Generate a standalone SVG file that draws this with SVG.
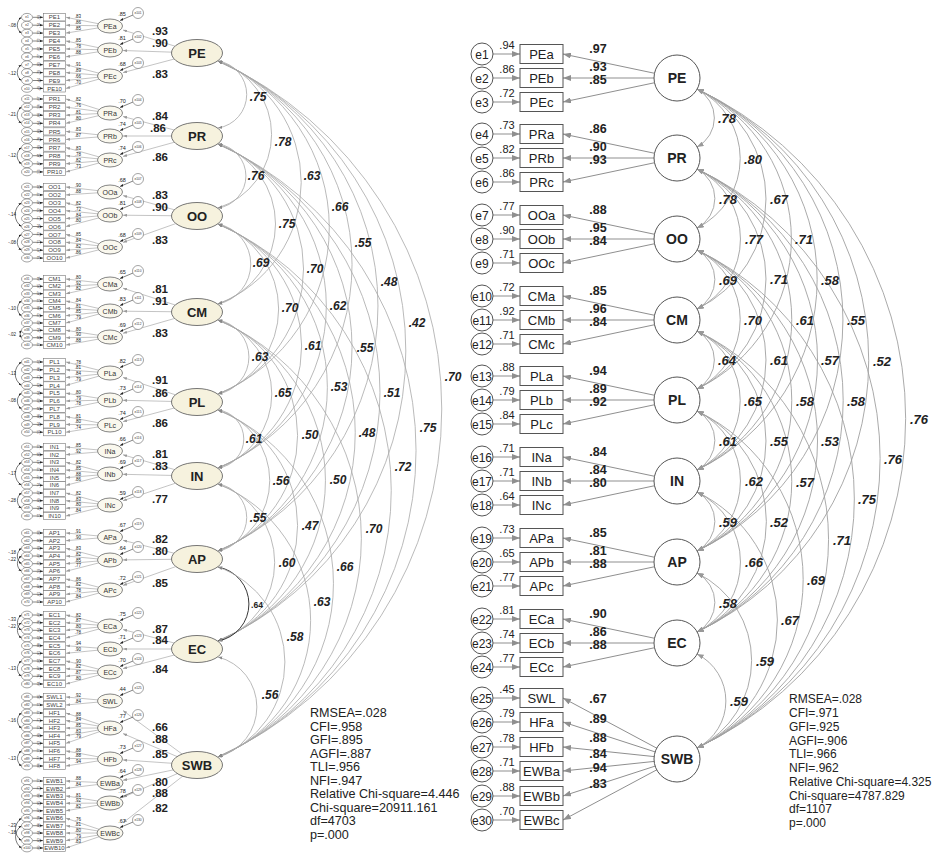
<svg xmlns="http://www.w3.org/2000/svg" width="934" height="854" viewBox="0 0 934 854">
<defs>
<style>
text{font-family:"Liberation Sans",Arial,sans-serif;fill:#222}
.nd{fill:#fff;stroke:#555;stroke-width:1}
.so{fill:#f6f2de;stroke:#666;stroke-width:0.9}
.fo{fill:#faf8ee;stroke:#666;stroke-width:0.8}
.en{fill:#fff;stroke:#666;stroke-width:0.6}
.bx{fill:#fff;stroke:#777;stroke-width:0.6}
.cr{stroke:#8f8f8f;stroke-width:1;fill:none;marker-end:url(#aR)}
.ac{stroke:#a0a0a0;stroke-width:0.9;fill:none;marker-start:url(#aC);marker-end:url(#aC)}
.al{stroke:#a8a8a8;stroke-width:0.8;fill:none;marker-start:url(#aS);marker-end:url(#aS)}
.alk{stroke:#222;stroke-width:0.9;fill:none;marker-start:url(#aS);marker-end:url(#aS)}
.ll{stroke:#aaa;stroke-width:0.7;fill:none;marker-end:url(#aL)}
.ka{stroke:#333;stroke-width:0.6;fill:none;marker-end:url(#aK)}
.kc{stroke:#222;stroke-width:0.6;fill:none;marker-start:url(#aK2);marker-end:url(#aK2)}
.t12{font-size:12px;text-anchor:middle}
.t13{font-size:13px;text-anchor:middle}
.lb{font-size:12.5px;font-weight:bold;text-anchor:middle}
.lbl{font-size:11.5px;font-weight:bold;text-anchor:middle}
.lt{font-size:14px;font-weight:bold;text-anchor:middle}
.lt2{font-size:13px;font-weight:bold;text-anchor:middle}
.ev{font-size:11px;fill:#555;text-anchor:middle}
.ci{font-size:13px;font-weight:bold;font-style:italic;text-anchor:middle}
.cl{font-size:12px;font-weight:bold;font-style:italic;text-anchor:middle}
.st{font-size:12px;fill:#333}
.stl{font-size:12.6px;fill:#333}
.t6{font-size:6px;text-anchor:middle;fill:#444}
.t7{font-size:7px;text-anchor:middle;fill:#333}
.t3{font-size:3.2px;text-anchor:middle;fill:#333}
.t45{font-size:4.5px;text-anchor:middle;fill:#555}
.t55{font-size:5.5px;text-anchor:middle;fill:#555}
.tr{font-size:3.6px;text-anchor:middle;fill:#444}
.tk{font-size:4.5px;text-anchor:end;fill:#444}
</style>
<marker id="aR" viewBox="0 0 8 6" refX="8" refY="3" markerWidth="8" markerHeight="6" markerUnits="userSpaceOnUse" orient="auto"><path d="M0,0L8,3L0,6z" fill="#8f8f8f"/></marker>
<marker id="aC" viewBox="0 0 8 6" refX="8" refY="3" markerWidth="7" markerHeight="5" markerUnits="userSpaceOnUse" orient="auto-start-reverse"><path d="M0,0L8,3L0,6z" fill="#999"/></marker>
<marker id="aS" viewBox="0 0 8 6" refX="8" refY="3" markerWidth="4.5" markerHeight="3.2" markerUnits="userSpaceOnUse" orient="auto-start-reverse"><path d="M0,0L8,3L0,6z" fill="#888"/></marker>
<marker id="aL" viewBox="0 0 8 6" refX="8" refY="3" markerWidth="4" markerHeight="3" markerUnits="userSpaceOnUse" orient="auto"><path d="M0,0L8,3L0,6z" fill="#999"/></marker>
<marker id="aK" viewBox="0 0 8 6" refX="8" refY="3" markerWidth="3.5" markerHeight="2.6" markerUnits="userSpaceOnUse" orient="auto"><path d="M0,0L8,3L0,6z" fill="#222"/></marker>
<marker id="aK2" viewBox="0 0 8 6" refX="8" refY="3" markerWidth="3" markerHeight="2.2" markerUnits="userSpaceOnUse" orient="auto-start-reverse"><path d="M0,0L8,3L0,6z" fill="#222"/></marker>
<g id="ind"><path d="M32.5,0H43" class="ka"/><ellipse cx="27" cy="0" rx="5.5" ry="3.9" class="en"/><rect x="43.5" y="-3.6" width="22" height="7.2" class="bx"/></g>
</defs>
<rect width="934" height="854" fill="#fff"/>

<!-- ================= LEFT PANEL CONNECTORS ================= -->
<g id="left-connectors">
<path class="al" d="M218,61A33.9,33.9 0 0 1 218,128"/>
<path class="al" d="M218,61A77.2,77.2 0 0 1 218,208"/>
<path class="al" d="M218,61A130.3,130.3 0 0 1 218,304"/>
<path class="al" d="M218,61A180.2,180.2 0 0 1 218,394"/>
<path class="al" d="M218,61A221.5,221.5 0 0 1 218,468"/>
<path class="al" d="M218,61A267.6,267.6 0 0 1 218,551"/>
<path class="al" d="M218,61A317.8,317.8 0 0 1 218,641"/>
<path class="al" d="M218,61A382.5,382.5 0 0 1 218,757"/>
<path class="al" d="M218,144A32.3,32.3 0 0 1 218,208"/>
<path class="al" d="M218,144A84.4,84.4 0 0 1 218,304"/>
<path class="al" d="M218,144A134.1,134.1 0 0 1 218,394"/>
<path class="al" d="M218,144A175.3,175.3 0 0 1 218,468"/>
<path class="al" d="M218,144A221.5,221.5 0 0 1 218,551"/>
<path class="al" d="M218,144A271.6,271.6 0 0 1 218,641"/>
<path class="al" d="M218,144A336.2,336.2 0 0 1 218,757"/>
<path class="al" d="M218,224A40.8,40.8 0 0 1 218,304"/>
<path class="al" d="M218,224A89.9,89.9 0 0 1 218,394"/>
<path class="al" d="M218,224A130.8,130.8 0 0 1 218,468"/>
<path class="al" d="M218,224A176.9,176.9 0 0 1 218,551"/>
<path class="al" d="M218,224A227,227 0 0 1 218,641"/>
<path class="al" d="M218,224A291.6,291.6 0 0 1 218,757"/>
<path class="al" d="M218,320A37.6,37.6 0 0 1 218,394"/>
<path class="al" d="M218,320A77.8,77.8 0 0 1 218,468"/>
<path class="al" d="M218,320A123.6,123.6 0 0 1 218,551"/>
<path class="al" d="M218,320A173.6,173.6 0 0 1 218,641"/>
<path class="al" d="M218,320A238.2,238.2 0 0 1 218,757"/>
<path class="al" d="M218,410A29.2,29.2 0 0 1 218,468"/>
<path class="al" d="M218,410A73.9,73.9 0 0 1 218,551"/>
<path class="al" d="M218,410A123.6,123.6 0 0 1 218,641"/>
<path class="al" d="M218,410A188.1,188.1 0 0 1 218,757"/>
<path class="al" d="M218,484A33.9,33.9 0 0 1 218,551"/>
<path class="al" d="M218,484A82.7,82.7 0 0 1 218,641"/>
<path class="al" d="M218,484A146.9,146.9 0 0 1 218,757"/>
<path class="alk" d="M218,567A37.6,37.6 0 0 1 218,641"/>
<path class="al" d="M218,567A100.9,100.9 0 0 1 218,757"/>
<path class="al" d="M218,657A51.6,51.6 0 0 1 218,757"/>

<path class="ll" d="M197,53L123,30"/><path class="ll" d="M197,53L123,50.5"/><path class="ll" d="M197,53L123,72.6"/>
<path class="ll" d="M197,136L123,116.5"/><path class="ll" d="M197,136L123,136"/><path class="ll" d="M197,136L123,156.4"/>
<path class="ll" d="M197,216L123,195.6"/><path class="ll" d="M197,216L123,215.2"/><path class="ll" d="M197,216L123,242.4"/>
<path class="ll" d="M197,312L123,288.2"/><path class="ll" d="M197,312L123,311.2"/><path class="ll" d="M197,312L123,333.3"/>
<path class="ll" d="M197,402L123,377.4"/><path class="ll" d="M197,402L123,400.3"/><path class="ll" d="M197,402L123,421.6"/>
<path class="ll" d="M197,476L123,454.8"/><path class="ll" d="M197,476L123,474.3"/><path class="ll" d="M197,476L123,500.7"/>
<path class="ll" d="M197,559L123,540.3"/><path class="ll" d="M197,559L123,559.9"/><path class="ll" d="M197,559L123,585.4"/>
<path class="ll" d="M197,649L123,629.5"/><path class="ll" d="M197,649L123,649"/><path class="ll" d="M197,649L123,668.6"/>
<path class="ll" d="M197,765L123,710.6"/><path class="ll" d="M197,765L123,733.6"/><path class="ll" d="M197,765L123,759.9"/><path class="ll" d="M197,765L123,780.3"/><path class="ll" d="M197,765L123,797.3"/><path class="ll" d="M197,765L123,822.8"/>

<g class="ka">
<path d="M133,15L120,20.5"/><path d="M133,39L120,44.5"/><path d="M133,65L120,70.5"/>
<path d="M133,102L120,107.5"/><path d="M133,125L120,130.5"/><path d="M133,149L120,154.5"/>
<path d="M133,181L120,186.5"/><path d="M133,204L120,209.5"/><path d="M133,236L120,241.5"/>
<path d="M133,273L120,278.5"/><path d="M133,300L120,305.5"/><path d="M133,326L120,331.5"/>
<path d="M133,362L120,367.5"/><path d="M133,389L120,394.5"/><path d="M133,414L120,419.5"/>
<path d="M133,440L120,445.5"/><path d="M133,463L120,468.5"/><path d="M133,494L120,499.5"/>
<path d="M133,526L120,531.5"/><path d="M133,549L120,554.5"/><path d="M133,579L120,584.5"/>
<path d="M133,615L120,620.5"/><path d="M133,638L120,643.5"/><path d="M133,661L120,666.5"/>
<path d="M133,690L120,695.5"/><path d="M133,717L120,722.5"/><path d="M133,748L120,753.5"/><path d="M133,772L120,777.5"/><path d="M133,792L120,797.5"/><path d="M133,822L120,827.5"/>
</g>

<g class="ll">
<path d="M110,26L66,17.3"/><path d="M110,26L66,25.2"/><path d="M110,26L66,33.1"/>
<path d="M110,50L66,41"/><path d="M110,50L66,48.9"/><path d="M110,50L66,56.8"/>
<path d="M110,76L66,64.7"/><path d="M110,76L66,72.6"/><path d="M110,76L66,80.5"/><path d="M110,76L66,88.4"/>
<path d="M110,113L66,99"/><path d="M110,113L66,107.1"/><path d="M110,113L66,115.2"/><path d="M110,113L66,123.3"/>
<path d="M110,136L66,131.4"/><path d="M110,136L66,139.5"/>
<path d="M110,160L66,147.6"/><path d="M110,160L66,155.7"/><path d="M110,160L66,163.8"/><path d="M110,160L66,171.9"/>
<path d="M110,192L66,187"/><path d="M110,192L66,194.9"/>
<path d="M110,215L66,202.8"/><path d="M110,215L66,210.7"/><path d="M110,215L66,218.6"/><path d="M110,215L66,226.5"/>
<path d="M110,247L66,234.4"/><path d="M110,247L66,242.3"/><path d="M110,247L66,250.2"/><path d="M110,247L66,258.1"/>
<path d="M110,284L66,279"/><path d="M110,284L66,286.3"/><path d="M110,284L66,293.7"/>
<path d="M110,311L66,301"/><path d="M110,311L66,308.3"/><path d="M110,311L66,315.7"/><path d="M110,311L66,323"/>
<path d="M110,337L66,330.3"/><path d="M110,337L66,337.7"/><path d="M110,337L66,345"/>
<path d="M110,373L66,362"/><path d="M110,373L66,369.8"/><path d="M110,373L66,377.6"/><path d="M110,373L66,385.4"/>
<path d="M110,400L66,393.2"/><path d="M110,400L66,401"/><path d="M110,400L66,408.8"/>
<path d="M110,425L66,416.6"/><path d="M110,425L66,424.4"/><path d="M110,425L66,432.2"/>
<path d="M110,451L66,447"/><path d="M110,451L66,454.7"/>
<path d="M110,474L66,462.3"/><path d="M110,474L66,470"/><path d="M110,474L66,477.7"/><path d="M110,474L66,485.3"/>
<path d="M110,505L66,493"/><path d="M110,505L66,500.7"/><path d="M110,505L66,508.3"/><path d="M110,505L66,516"/>
<path d="M110,537L66,533"/><path d="M110,537L66,540.7"/>
<path d="M110,560L66,548.3"/><path d="M110,560L66,556"/><path d="M110,560L66,563.7"/><path d="M110,560L66,571.3"/>
<path d="M110,590L66,579"/><path d="M110,590L66,586.7"/><path d="M110,590L66,594.3"/><path d="M110,590L66,602"/>
<path d="M110,626L66,615"/><path d="M110,626L66,622.7"/><path d="M110,626L66,630.3"/><path d="M110,626L66,638"/>
<path d="M110,649L66,645.7"/><path d="M110,649L66,653.3"/>
<path d="M110,672L66,661"/><path d="M110,672L66,668.7"/><path d="M110,672L66,676.3"/><path d="M110,672L66,684"/>
<path d="M110,701L66,697"/><path d="M110,701L66,705"/>
<path d="M110,728L66,713"/><path d="M110,728L66,720.6"/><path d="M110,728L66,728.1"/><path d="M110,728L66,735.7"/><path d="M110,728L66,743.3"/>
<path d="M110,759L66,750.9"/><path d="M110,759L66,758.4"/><path d="M110,759L66,766"/>
<path d="M110,783L66,781"/><path d="M110,783L66,788.4"/>
<path d="M110,803L66,795.9"/><path d="M110,803L66,803.3"/><path d="M110,803L66,810.8"/>
<path d="M110,833L66,818.2"/><path d="M110,833L66,825.7"/><path d="M110,833L66,833.1"/><path d="M110,833L66,840.6"/><path d="M110,833L66,848"/>
</g>

<g class="kc">
<path d="M21.5,17.3A9.5,9.5 0 0 0 21.5,33.1"/><path d="M21.5,64.7A9.5,9.5 0 0 0 21.5,80.5"/>
<path d="M21.5,107.1A9.7,9.7 0 0 0 21.5,123.3"/><path d="M21.5,147.6A9.7,9.7 0 0 0 21.5,163.8"/>
<path d="M21.5,202.8A14.2,14.2 0 0 0 21.5,226.5"/><path d="M21.5,234.4A9.5,9.5 0 0 0 21.5,250.2"/>
<path d="M21.5,301A8.8,8.8 0 0 0 21.5,315.7"/><path d="M21.5,330.3A6,6 0 0 0 21.5,337.7"/>
<path d="M21.5,362A14,14 0 0 0 21.5,385.4"/><path d="M21.5,393.2A9.4,9.4 0 0 0 21.5,408.8"/>
<path d="M21.5,462.3A13.8,13.8 0 0 0 21.5,485.3"/><path d="M21.5,493A9.2,9.2 0 0 0 21.5,508.3"/>
<path d="M21.5,548.3A9.2,9.2 0 0 0 21.5,563.7"/><path d="M21.5,556A9.2,9.2 0 0 0 21.5,571.3"/>
<path d="M21.5,615A9.2,9.2 0 0 0 21.5,630.3"/><path d="M21.5,622.7A9.2,9.2 0 0 0 21.5,638"/><path d="M21.5,661A9.2,9.2 0 0 0 21.5,676.3"/>
<path d="M21.5,713A9.1,9.1 0 0 0 21.5,728.1"/><path d="M21.5,750.9A9.1,9.1 0 0 0 21.5,766"/>
<path d="M21.5,818.2A13.4,13.4 0 0 0 21.5,840.6"/><path d="M21.5,825.7A13.4,13.4 0 0 0 21.5,848"/>
</g>
</g>

<!-- ================= LEFT PANEL NODES ================= -->
<g id="left-indicators">
<g id="PE1" transform="translate(0,17.3)"><use href="#ind"/><text x="54.5" y="2.1" class="t6">PE1</text><text x="27" y="1.1" class="t3">e1</text><text class="tr" transform="translate(39,0) rotate(-90)" y="1.2">.69</text></g>
<g id="PE2" transform="translate(0,25.2)"><use href="#ind"/><text x="54.5" y="2.1" class="t6">PE2</text><text x="27" y="1.1" class="t3">e2</text><text class="tr" transform="translate(39,0) rotate(-90)" y="1.2">.74</text></g>
<g id="PE3" transform="translate(0,33.1)"><use href="#ind"/><text x="54.5" y="2.1" class="t6">PE3</text><text x="27" y="1.1" class="t3">e3</text><text class="tr" transform="translate(39,0) rotate(-90)" y="1.2">.72</text></g>
<g id="PE4" transform="translate(0,41)"><use href="#ind"/><text x="54.5" y="2.1" class="t6">PE4</text><text x="27" y="1.1" class="t3">e4</text><text class="tr" transform="translate(39,0) rotate(-90)" y="1.2">.72</text></g>
<g id="PE5" transform="translate(0,48.9)"><use href="#ind"/><text x="54.5" y="2.1" class="t6">PE5</text><text x="27" y="1.1" class="t3">e5</text><text class="tr" transform="translate(39,0) rotate(-90)" y="1.2">.61</text></g>
<g id="PE6" transform="translate(0,56.8)"><use href="#ind"/><text x="54.5" y="2.1" class="t6">PE6</text><text x="27" y="1.1" class="t3">e6</text><text class="tr" transform="translate(39,0) rotate(-90)" y="1.2">.77</text></g>
<g id="PE7" transform="translate(0,64.7)"><use href="#ind"/><text x="54.5" y="2.1" class="t6">PE7</text><text x="27" y="1.1" class="t3">e7</text><text class="tr" transform="translate(39,0) rotate(-90)" y="1.2">.83</text></g>
<g id="PE8" transform="translate(0,72.6)"><use href="#ind"/><text x="54.5" y="2.1" class="t6">PE8</text><text x="27" y="1.1" class="t3">e8</text><text class="tr" transform="translate(39,0) rotate(-90)" y="1.2">.79</text></g>
<g id="PE9" transform="translate(0,80.5)"><use href="#ind"/><text x="54.5" y="2.1" class="t6">PE9</text><text x="27" y="1.1" class="t3">e9</text><text class="tr" transform="translate(39,0) rotate(-90)" y="1.2">.44</text></g>
<g id="PE10" transform="translate(0,88.4)"><use href="#ind"/><text x="54.5" y="2.1" class="t6">PE10</text><text x="27" y="1.1" class="t3">e10</text><text class="tr" transform="translate(39,0) rotate(-90)" y="1.2">.49</text></g>
<g id="PR1" transform="translate(0,99)"><use href="#ind"/><text x="54.5" y="2.1" class="t6">PR1</text><text x="27" y="1.1" class="t3">e11</text><text class="tr" transform="translate(39,0) rotate(-90)" y="1.2">.67</text></g>
<g id="PR2" transform="translate(0,107.1)"><use href="#ind"/><text x="54.5" y="2.1" class="t6">PR2</text><text x="27" y="1.1" class="t3">e12</text><text class="tr" transform="translate(39,0) rotate(-90)" y="1.2">.58</text></g>
<g id="PR3" transform="translate(0,115.2)"><use href="#ind"/><text x="54.5" y="2.1" class="t6">PR3</text><text x="27" y="1.1" class="t3">e13</text><text class="tr" transform="translate(39,0) rotate(-90)" y="1.2">.66</text></g>
<g id="PR4" transform="translate(0,123.3)"><use href="#ind"/><text x="54.5" y="2.1" class="t6">PR4</text><text x="27" y="1.1" class="t3">e14</text><text class="tr" transform="translate(39,0) rotate(-90)" y="1.2">.64</text></g>
<g id="PR5" transform="translate(0,131.4)"><use href="#ind"/><text x="54.5" y="2.1" class="t6">PR5</text><text x="27" y="1.1" class="t3">e15</text><text class="tr" transform="translate(39,0) rotate(-90)" y="1.2">.69</text></g>
<g id="PR6" transform="translate(0,139.5)"><use href="#ind"/><text x="54.5" y="2.1" class="t6">PR6</text><text x="27" y="1.1" class="t3">e16</text><text class="tr" transform="translate(39,0) rotate(-90)" y="1.2">.76</text></g>
<g id="PR7" transform="translate(0,147.6)"><use href="#ind"/><text x="54.5" y="2.1" class="t6">PR7</text><text x="27" y="1.1" class="t3">e17</text><text class="tr" transform="translate(39,0) rotate(-90)" y="1.2">.69</text></g>
<g id="PR8" transform="translate(0,155.7)"><use href="#ind"/><text x="54.5" y="2.1" class="t6">PR8</text><text x="27" y="1.1" class="t3">e18</text><text class="tr" transform="translate(39,0) rotate(-90)" y="1.2">.61</text></g>
<g id="PR9" transform="translate(0,163.8)"><use href="#ind"/><text x="54.5" y="2.1" class="t6">PR9</text><text x="27" y="1.1" class="t3">e19</text><text class="tr" transform="translate(39,0) rotate(-90)" y="1.2">.67</text></g>
<g id="PR10" transform="translate(0,171.9)"><use href="#ind"/><text x="54.5" y="2.1" class="t6">PR10</text><text x="27" y="1.1" class="t3">e20</text><text class="tr" transform="translate(39,0) rotate(-90)" y="1.2">.53</text></g>
<g id="OO1" transform="translate(0,187)"><use href="#ind"/><text x="54.5" y="2.1" class="t6">OO1</text><text x="27" y="1.1" class="t3">e21</text><text class="tr" transform="translate(39,0) rotate(-90)" y="1.2">.81</text></g>
<g id="OO2" transform="translate(0,194.9)"><use href="#ind"/><text x="54.5" y="2.1" class="t6">OO2</text><text x="27" y="1.1" class="t3">e22</text><text class="tr" transform="translate(39,0) rotate(-90)" y="1.2">.77</text></g>
<g id="OO3" transform="translate(0,202.8)"><use href="#ind"/><text x="54.5" y="2.1" class="t6">OO3</text><text x="27" y="1.1" class="t3">e23</text><text class="tr" transform="translate(39,0) rotate(-90)" y="1.2">.67</text></g>
<g id="OO4" transform="translate(0,210.7)"><use href="#ind"/><text x="54.5" y="2.1" class="t6">OO4</text><text x="27" y="1.1" class="t3">e24</text><text class="tr" transform="translate(39,0) rotate(-90)" y="1.2">.52</text></g>
<g id="OO5" transform="translate(0,218.6)"><use href="#ind"/><text x="54.5" y="2.1" class="t6">OO5</text><text x="27" y="1.1" class="t3">e25</text><text class="tr" transform="translate(39,0) rotate(-90)" y="1.2">.71</text></g>
<g id="OO6" transform="translate(0,226.5)"><use href="#ind"/><text x="54.5" y="2.1" class="t6">OO6</text><text x="27" y="1.1" class="t3">e26</text><text class="tr" transform="translate(39,0) rotate(-90)" y="1.2">.64</text></g>
<g id="OO7" transform="translate(0,234.4)"><use href="#ind"/><text x="54.5" y="2.1" class="t6">OO7</text><text x="27" y="1.1" class="t3">e27</text><text class="tr" transform="translate(39,0) rotate(-90)" y="1.2">.72</text></g>
<g id="OO8" transform="translate(0,242.3)"><use href="#ind"/><text x="54.5" y="2.1" class="t6">OO8</text><text x="27" y="1.1" class="t3">e28</text><text class="tr" transform="translate(39,0) rotate(-90)" y="1.2">.71</text></g>
<g id="OO9" transform="translate(0,250.2)"><use href="#ind"/><text x="54.5" y="2.1" class="t6">OO9</text><text x="27" y="1.1" class="t3">e29</text><text class="tr" transform="translate(39,0) rotate(-90)" y="1.2">.67</text></g>
<g id="OO10" transform="translate(0,258.1)"><use href="#ind"/><text x="54.5" y="2.1" class="t6">OO10</text><text x="27" y="1.1" class="t3">e30</text><text class="tr" transform="translate(39,0) rotate(-90)" y="1.2">.74</text></g>
<g id="CM1" transform="translate(0,279)"><use href="#ind"/><text x="54.5" y="2.1" class="t6">CM1</text><text x="27" y="1.1" class="t3">e31</text><text class="tr" transform="translate(39,0) rotate(-90)" y="1.2">.64</text></g>
<g id="CM2" transform="translate(0,286.3)"><use href="#ind"/><text x="54.5" y="2.1" class="t6">CM2</text><text x="27" y="1.1" class="t3">e32</text><text class="tr" transform="translate(39,0) rotate(-90)" y="1.2">.85</text></g>
<g id="CM3" transform="translate(0,293.7)"><use href="#ind"/><text x="54.5" y="2.1" class="t6">CM3</text><text x="27" y="1.1" class="t3">e33</text><text class="tr" transform="translate(39,0) rotate(-90)" y="1.2">.67</text></g>
<g id="CM4" transform="translate(0,301)"><use href="#ind"/><text x="54.5" y="2.1" class="t6">CM4</text><text x="27" y="1.1" class="t3">e34</text><text class="tr" transform="translate(39,0) rotate(-90)" y="1.2">.71</text></g>
<g id="CM5" transform="translate(0,308.3)"><use href="#ind"/><text x="54.5" y="2.1" class="t6">CM5</text><text x="27" y="1.1" class="t3">e35</text><text class="tr" transform="translate(39,0) rotate(-90)" y="1.2">.66</text></g>
<g id="CM6" transform="translate(0,315.7)"><use href="#ind"/><text x="54.5" y="2.1" class="t6">CM6</text><text x="27" y="1.1" class="t3">e36</text><text class="tr" transform="translate(39,0) rotate(-90)" y="1.2">.72</text></g>
<g id="CM7" transform="translate(0,323)"><use href="#ind"/><text x="54.5" y="2.1" class="t6">CM7</text><text x="27" y="1.1" class="t3">e37</text><text class="tr" transform="translate(39,0) rotate(-90)" y="1.2">.62</text></g>
<g id="CM8" transform="translate(0,330.3)"><use href="#ind"/><text x="54.5" y="2.1" class="t6">CM8</text><text x="27" y="1.1" class="t3">e38</text><text class="tr" transform="translate(39,0) rotate(-90)" y="1.2">.64</text></g>
<g id="CM9" transform="translate(0,337.7)"><use href="#ind"/><text x="54.5" y="2.1" class="t6">CM9</text><text x="27" y="1.1" class="t3">e39</text><text class="tr" transform="translate(39,0) rotate(-90)" y="1.2">.81</text></g>
<g id="CM10" transform="translate(0,345)"><use href="#ind"/><text x="54.5" y="2.1" class="t6">CM10</text><text x="27" y="1.1" class="t3">e40</text><text class="tr" transform="translate(39,0) rotate(-90)" y="1.2">.77</text></g>
<g id="PL1" transform="translate(0,362)"><use href="#ind"/><text x="54.5" y="2.1" class="t6">PL1</text><text x="27" y="1.1" class="t3">e41</text><text class="tr" transform="translate(39,0) rotate(-90)" y="1.2">.61</text></g>
<g id="PL2" transform="translate(0,369.8)"><use href="#ind"/><text x="54.5" y="2.1" class="t6">PL2</text><text x="27" y="1.1" class="t3">e42</text><text class="tr" transform="translate(39,0) rotate(-90)" y="1.2">.66</text></g>
<g id="PL3" transform="translate(0,377.6)"><use href="#ind"/><text x="54.5" y="2.1" class="t6">PL3</text><text x="27" y="1.1" class="t3">e43</text><text class="tr" transform="translate(39,0) rotate(-90)" y="1.2">.71</text></g>
<g id="PL4" transform="translate(0,385.4)"><use href="#ind"/><text x="54.5" y="2.1" class="t6">PL4</text><text x="27" y="1.1" class="t3">e44</text><text class="tr" transform="translate(39,0) rotate(-90)" y="1.2">.62</text></g>
<g id="PL5" transform="translate(0,393.2)"><use href="#ind"/><text x="54.5" y="2.1" class="t6">PL5</text><text x="27" y="1.1" class="t3">e45</text><text class="tr" transform="translate(39,0) rotate(-90)" y="1.2">.64</text></g>
<g id="PL6" transform="translate(0,401)"><use href="#ind"/><text x="54.5" y="2.1" class="t6">PL6</text><text x="27" y="1.1" class="t3">e46</text><text class="tr" transform="translate(39,0) rotate(-90)" y="1.2">.62</text></g>
<g id="PL7" transform="translate(0,408.8)"><use href="#ind"/><text x="54.5" y="2.1" class="t6">PL7</text><text x="27" y="1.1" class="t3">e47</text><text class="tr" transform="translate(39,0) rotate(-90)" y="1.2">.61</text></g>
<g id="PL8" transform="translate(0,416.6)"><use href="#ind"/><text x="54.5" y="2.1" class="t6">PL8</text><text x="27" y="1.1" class="t3">e48</text><text class="tr" transform="translate(39,0) rotate(-90)" y="1.2">.66</text></g>
<g id="PL9" transform="translate(0,424.4)"><use href="#ind"/><text x="54.5" y="2.1" class="t6">PL9</text><text x="27" y="1.1" class="t3">e49</text><text class="tr" transform="translate(39,0) rotate(-90)" y="1.2">.64</text></g>
<g id="PL10" transform="translate(0,432.2)"><use href="#ind"/><text x="54.5" y="2.1" class="t6">PL10</text><text x="27" y="1.1" class="t3">e50</text><text class="tr" transform="translate(39,0) rotate(-90)" y="1.2">.55</text></g>
<g id="IN1" transform="translate(0,447)"><use href="#ind"/><text x="54.5" y="2.1" class="t6">IN1</text><text x="27" y="1.1" class="t3">e51</text><text class="tr" transform="translate(39,0) rotate(-90)" y="1.2">.72</text></g>
<g id="IN2" transform="translate(0,454.7)"><use href="#ind"/><text x="54.5" y="2.1" class="t6">IN2</text><text x="27" y="1.1" class="t3">e52</text><text class="tr" transform="translate(39,0) rotate(-90)" y="1.2">.85</text></g>
<g id="IN3" transform="translate(0,462.3)"><use href="#ind"/><text x="54.5" y="2.1" class="t6">IN3</text><text x="27" y="1.1" class="t3">e53</text><text class="tr" transform="translate(39,0) rotate(-90)" y="1.2">.67</text></g>
<g id="IN4" transform="translate(0,470)"><use href="#ind"/><text x="54.5" y="2.1" class="t6">IN4</text><text x="27" y="1.1" class="t3">e54</text><text class="tr" transform="translate(39,0) rotate(-90)" y="1.2">.72</text></g>
<g id="IN5" transform="translate(0,477.7)"><use href="#ind"/><text x="54.5" y="2.1" class="t6">IN5</text><text x="27" y="1.1" class="t3">e55</text><text class="tr" transform="translate(39,0) rotate(-90)" y="1.2">.77</text></g>
<g id="IN6" transform="translate(0,485.3)"><use href="#ind"/><text x="54.5" y="2.1" class="t6">IN6</text><text x="27" y="1.1" class="t3">e56</text><text class="tr" transform="translate(39,0) rotate(-90)" y="1.2">.74</text></g>
<g id="IN7" transform="translate(0,493)"><use href="#ind"/><text x="54.5" y="2.1" class="t6">IN7</text><text x="27" y="1.1" class="t3">e57</text><text class="tr" transform="translate(39,0) rotate(-90)" y="1.2">.67</text></g>
<g id="IN8" transform="translate(0,500.7)"><use href="#ind"/><text x="54.5" y="2.1" class="t6">IN8</text><text x="27" y="1.1" class="t3">e58</text><text class="tr" transform="translate(39,0) rotate(-90)" y="1.2">.69</text></g>
<g id="IN9" transform="translate(0,508.3)"><use href="#ind"/><text x="54.5" y="2.1" class="t6">IN9</text><text x="27" y="1.1" class="t3">e59</text><text class="tr" transform="translate(39,0) rotate(-90)" y="1.2">.64</text></g>
<g id="IN10" transform="translate(0,516)"><use href="#ind"/><text x="54.5" y="2.1" class="t6">IN10</text><text x="27" y="1.1" class="t3">e60</text><text class="tr" transform="translate(39,0) rotate(-90)" y="1.2">.71</text></g>
<g id="AP1" transform="translate(0,533)"><use href="#ind"/><text x="54.5" y="2.1" class="t6">AP1</text><text x="27" y="1.1" class="t3">e61</text><text class="tr" transform="translate(39,0) rotate(-90)" y="1.2">.83</text></g>
<g id="AP2" transform="translate(0,540.7)"><use href="#ind"/><text x="54.5" y="2.1" class="t6">AP2</text><text x="27" y="1.1" class="t3">e62</text><text class="tr" transform="translate(39,0) rotate(-90)" y="1.2">.81</text></g>
<g id="AP3" transform="translate(0,548.3)"><use href="#ind"/><text x="54.5" y="2.1" class="t6">AP3</text><text x="27" y="1.1" class="t3">e63</text><text class="tr" transform="translate(39,0) rotate(-90)" y="1.2">.69</text></g>
<g id="AP4" transform="translate(0,556)"><use href="#ind"/><text x="54.5" y="2.1" class="t6">AP4</text><text x="27" y="1.1" class="t3">e64</text><text class="tr" transform="translate(39,0) rotate(-90)" y="1.2">.67</text></g>
<g id="AP5" transform="translate(0,563.7)"><use href="#ind"/><text x="54.5" y="2.1" class="t6">AP5</text><text x="27" y="1.1" class="t3">e65</text><text class="tr" transform="translate(39,0) rotate(-90)" y="1.2">.72</text></g>
<g id="AP6" transform="translate(0,571.3)"><use href="#ind"/><text x="54.5" y="2.1" class="t6">AP6</text><text x="27" y="1.1" class="t3">e66</text><text class="tr" transform="translate(39,0) rotate(-90)" y="1.2">.59</text></g>
<g id="AP7" transform="translate(0,579)"><use href="#ind"/><text x="54.5" y="2.1" class="t6">AP7</text><text x="27" y="1.1" class="t3">e67</text><text class="tr" transform="translate(39,0) rotate(-90)" y="1.2">.74</text></g>
<g id="AP8" transform="translate(0,586.7)"><use href="#ind"/><text x="54.5" y="2.1" class="t6">AP8</text><text x="27" y="1.1" class="t3">e68</text><text class="tr" transform="translate(39,0) rotate(-90)" y="1.2">.67</text></g>
<g id="AP9" transform="translate(0,594.3)"><use href="#ind"/><text x="54.5" y="2.1" class="t6">AP9</text><text x="27" y="1.1" class="t3">e69</text><text class="tr" transform="translate(39,0) rotate(-90)" y="1.2">.61</text></g>
<g id="AP10" transform="translate(0,602)"><use href="#ind"/><text x="54.5" y="2.1" class="t6">AP10</text><text x="27" y="1.1" class="t3">e70</text><text class="tr" transform="translate(39,0) rotate(-90)" y="1.2">.71</text></g>
<g id="EC1" transform="translate(0,615)"><use href="#ind"/><text x="54.5" y="2.1" class="t6">EC1</text><text x="27" y="1.1" class="t3">e71</text><text class="tr" transform="translate(39,0) rotate(-90)" y="1.2">.67</text></g>
<g id="EC2" transform="translate(0,622.7)"><use href="#ind"/><text x="54.5" y="2.1" class="t6">EC2</text><text x="27" y="1.1" class="t3">e72</text><text class="tr" transform="translate(39,0) rotate(-90)" y="1.2">.76</text></g>
<g id="EC3" transform="translate(0,630.3)"><use href="#ind"/><text x="54.5" y="2.1" class="t6">EC3</text><text x="27" y="1.1" class="t3">e73</text><text class="tr" transform="translate(39,0) rotate(-90)" y="1.2">.64</text></g>
<g id="EC4" transform="translate(0,638)"><use href="#ind"/><text x="54.5" y="2.1" class="t6">EC4</text><text x="27" y="1.1" class="t3">e74</text><text class="tr" transform="translate(39,0) rotate(-90)" y="1.2">.61</text></g>
<g id="EC5" transform="translate(0,645.7)"><use href="#ind"/><text x="54.5" y="2.1" class="t6">EC5</text><text x="27" y="1.1" class="t3">e75</text><text class="tr" transform="translate(39,0) rotate(-90)" y="1.2">.88</text></g>
<g id="EC6" transform="translate(0,653.3)"><use href="#ind"/><text x="54.5" y="2.1" class="t6">EC6</text><text x="27" y="1.1" class="t3">e76</text><text class="tr" transform="translate(39,0) rotate(-90)" y="1.2">.81</text></g>
<g id="EC7" transform="translate(0,661)"><use href="#ind"/><text x="54.5" y="2.1" class="t6">EC7</text><text x="27" y="1.1" class="t3">e77</text><text class="tr" transform="translate(39,0) rotate(-90)" y="1.2">.81</text></g>
<g id="EC8" transform="translate(0,668.7)"><use href="#ind"/><text x="54.5" y="2.1" class="t6">EC8</text><text x="27" y="1.1" class="t3">e78</text><text class="tr" transform="translate(39,0) rotate(-90)" y="1.2">.67</text></g>
<g id="EC9" transform="translate(0,676.3)"><use href="#ind"/><text x="54.5" y="2.1" class="t6">EC9</text><text x="27" y="1.1" class="t3">e79</text><text class="tr" transform="translate(39,0) rotate(-90)" y="1.2">.76</text></g>
<g id="EC10" transform="translate(0,684)"><use href="#ind"/><text x="54.5" y="2.1" class="t6">EC10</text><text x="27" y="1.1" class="t3">e80</text><text class="tr" transform="translate(39,0) rotate(-90)" y="1.2">.64</text></g>
<g id="SWL1" transform="translate(0,697)"><use href="#ind"/><text x="54.5" y="2.1" class="t6">SWL1</text><text x="27" y="1.1" class="t3">e81</text><text class="tr" transform="translate(39,0) rotate(-90)" y="1.2">.85</text></g>
<g id="SWL2" transform="translate(0,705)"><use href="#ind"/><text x="54.5" y="2.1" class="t6">SWL2</text><text x="27" y="1.1" class="t3">e82</text><text class="tr" transform="translate(39,0) rotate(-90)" y="1.2">.71</text></g>
<g id="HF1" transform="translate(0,713)"><use href="#ind"/><text x="54.5" y="2.1" class="t6">HF1</text><text x="27" y="1.1" class="t3">e83</text><text class="tr" transform="translate(39,0) rotate(-90)" y="1.2">.77</text></g>
<g id="HF2" transform="translate(0,720.6)"><use href="#ind"/><text x="54.5" y="2.1" class="t6">HF2</text><text x="27" y="1.1" class="t3">e84</text><text class="tr" transform="translate(39,0) rotate(-90)" y="1.2">.71</text></g>
<g id="HF3" transform="translate(0,728.1)"><use href="#ind"/><text x="54.5" y="2.1" class="t6">HF3</text><text x="27" y="1.1" class="t3">e85</text><text class="tr" transform="translate(39,0) rotate(-90)" y="1.2">.72</text></g>
<g id="HF4" transform="translate(0,735.7)"><use href="#ind"/><text x="54.5" y="2.1" class="t6">HF4</text><text x="27" y="1.1" class="t3">e86</text><text class="tr" transform="translate(39,0) rotate(-90)" y="1.2">.69</text></g>
<g id="HF5" transform="translate(0,743.3)"><use href="#ind"/><text x="54.5" y="2.1" class="t6">HF5</text><text x="27" y="1.1" class="t3">e87</text><text class="tr" transform="translate(39,0) rotate(-90)" y="1.2">.62</text></g>
<g id="HF6" transform="translate(0,750.9)"><use href="#ind"/><text x="54.5" y="2.1" class="t6">HF6</text><text x="27" y="1.1" class="t3">e88</text><text class="tr" transform="translate(39,0) rotate(-90)" y="1.2">.77</text></g>
<g id="HF7" transform="translate(0,758.4)"><use href="#ind"/><text x="54.5" y="2.1" class="t6">HF7</text><text x="27" y="1.1" class="t3">e89</text><text class="tr" transform="translate(39,0) rotate(-90)" y="1.2">.77</text></g>
<g id="HF8" transform="translate(0,766)"><use href="#ind"/><text x="54.5" y="2.1" class="t6">HF8</text><text x="27" y="1.1" class="t3">e90</text><text class="tr" transform="translate(39,0) rotate(-90)" y="1.2">.88</text></g>
<g id="EWB1" transform="translate(0,781)"><use href="#ind"/><text x="54.5" y="2.1" class="t6">EWB1</text><text x="27" y="1.1" class="t3">e91</text><text class="tr" transform="translate(39,0) rotate(-90)" y="1.2">.77</text></g>
<g id="EWB2" transform="translate(0,788.4)"><use href="#ind"/><text x="54.5" y="2.1" class="t6">EWB2</text><text x="27" y="1.1" class="t3">e92</text><text class="tr" transform="translate(39,0) rotate(-90)" y="1.2">.71</text></g>
<g id="EWB3" transform="translate(0,795.9)"><use href="#ind"/><text x="54.5" y="2.1" class="t6">EWB3</text><text x="27" y="1.1" class="t3">e93</text><text class="tr" transform="translate(39,0) rotate(-90)" y="1.2">.66</text></g>
<g id="EWB4" transform="translate(0,803.3)"><use href="#ind"/><text x="54.5" y="2.1" class="t6">EWB4</text><text x="27" y="1.1" class="t3">e94</text><text class="tr" transform="translate(39,0) rotate(-90)" y="1.2">.85</text></g>
<g id="EWB5" transform="translate(0,810.8)"><use href="#ind"/><text x="54.5" y="2.1" class="t6">EWB5</text><text x="27" y="1.1" class="t3">e95</text><text class="tr" transform="translate(39,0) rotate(-90)" y="1.2">.67</text></g>
<g id="EWB6" transform="translate(0,818.2)"><use href="#ind"/><text x="54.5" y="2.1" class="t6">EWB6</text><text x="27" y="1.1" class="t3">e96</text><text class="tr" transform="translate(39,0) rotate(-90)" y="1.2">.58</text></g>
<g id="EWB7" transform="translate(0,825.7)"><use href="#ind"/><text x="54.5" y="2.1" class="t6">EWB7</text><text x="27" y="1.1" class="t3">e97</text><text class="tr" transform="translate(39,0) rotate(-90)" y="1.2">.66</text></g>
<g id="EWB8" transform="translate(0,833.1)"><use href="#ind"/><text x="54.5" y="2.1" class="t6">EWB8</text><text x="27" y="1.1" class="t3">e98</text><text class="tr" transform="translate(39,0) rotate(-90)" y="1.2">.64</text></g>
<g id="EWB9" transform="translate(0,840.6)"><use href="#ind"/><text x="54.5" y="2.1" class="t6">EWB9</text><text x="27" y="1.1" class="t3">e99</text><text class="tr" transform="translate(39,0) rotate(-90)" y="1.2">.62</text></g>
<g id="EWB10" transform="translate(0,848)"><use href="#ind"/><text x="54.5" y="2.1" class="t6">EWB10</text><text x="27" y="1.1" class="t3">e100</text><text class="tr" transform="translate(39,0) rotate(-90)" y="1.2">.69</text></g>
</g>

<g id="left-first-order">
<g id="L-PEa"><ellipse cx="110" cy="26" rx="12.5" ry="7" class="fo"/><text x="110" y="28.5" class="t7">PEa</text></g>
<g id="L-PEb"><ellipse cx="110" cy="50" rx="12.5" ry="7" class="fo"/><text x="110" y="52.5" class="t7">PEb</text></g>
<g id="L-PEc"><ellipse cx="110" cy="76" rx="12.5" ry="7" class="fo"/><text x="110" y="78.5" class="t7">PEc</text></g>
<g id="L-PRa"><ellipse cx="110" cy="113" rx="12.5" ry="7" class="fo"/><text x="110" y="115.5" class="t7">PRa</text></g>
<g id="L-PRb"><ellipse cx="110" cy="136" rx="12.5" ry="7" class="fo"/><text x="110" y="138.5" class="t7">PRb</text></g>
<g id="L-PRc"><ellipse cx="110" cy="160" rx="12.5" ry="7" class="fo"/><text x="110" y="162.5" class="t7">PRc</text></g>
<g id="L-OOa"><ellipse cx="110" cy="192" rx="12.5" ry="7" class="fo"/><text x="110" y="194.5" class="t7">OOa</text></g>
<g id="L-OOb"><ellipse cx="110" cy="215" rx="12.5" ry="7" class="fo"/><text x="110" y="217.5" class="t7">OOb</text></g>
<g id="L-OOc"><ellipse cx="110" cy="247" rx="12.5" ry="7" class="fo"/><text x="110" y="249.5" class="t7">OOc</text></g>
<g id="L-CMa"><ellipse cx="110" cy="284" rx="12.5" ry="7" class="fo"/><text x="110" y="286.5" class="t7">CMa</text></g>
<g id="L-CMb"><ellipse cx="110" cy="311" rx="12.5" ry="7" class="fo"/><text x="110" y="313.5" class="t7">CMb</text></g>
<g id="L-CMc"><ellipse cx="110" cy="337" rx="12.5" ry="7" class="fo"/><text x="110" y="339.5" class="t7">CMc</text></g>
<g id="L-PLa"><ellipse cx="110" cy="373" rx="12.5" ry="7" class="fo"/><text x="110" y="375.5" class="t7">PLa</text></g>
<g id="L-PLb"><ellipse cx="110" cy="400" rx="12.5" ry="7" class="fo"/><text x="110" y="402.5" class="t7">PLb</text></g>
<g id="L-PLc"><ellipse cx="110" cy="425" rx="12.5" ry="7" class="fo"/><text x="110" y="427.5" class="t7">PLc</text></g>
<g id="L-INa"><ellipse cx="110" cy="451" rx="12.5" ry="7" class="fo"/><text x="110" y="453.5" class="t7">INa</text></g>
<g id="L-INb"><ellipse cx="110" cy="474" rx="12.5" ry="7" class="fo"/><text x="110" y="476.5" class="t7">INb</text></g>
<g id="L-INc"><ellipse cx="110" cy="505" rx="12.5" ry="7" class="fo"/><text x="110" y="507.5" class="t7">INc</text></g>
<g id="L-APa"><ellipse cx="110" cy="537" rx="12.5" ry="7" class="fo"/><text x="110" y="539.5" class="t7">APa</text></g>
<g id="L-APb"><ellipse cx="110" cy="560" rx="12.5" ry="7" class="fo"/><text x="110" y="562.5" class="t7">APb</text></g>
<g id="L-APc"><ellipse cx="110" cy="590" rx="12.5" ry="7" class="fo"/><text x="110" y="592.5" class="t7">APc</text></g>
<g id="L-ECa"><ellipse cx="110" cy="626" rx="12.5" ry="7" class="fo"/><text x="110" y="628.5" class="t7">ECa</text></g>
<g id="L-ECb"><ellipse cx="110" cy="649" rx="12.5" ry="7" class="fo"/><text x="110" y="651.5" class="t7">ECb</text></g>
<g id="L-ECc"><ellipse cx="110" cy="672" rx="12.5" ry="7" class="fo"/><text x="110" y="674.5" class="t7">ECc</text></g>
<g id="L-SWL"><ellipse cx="110" cy="701" rx="12.5" ry="7" class="fo"/><text x="110" y="703.5" class="t7">SWL</text></g>
<g id="L-HFa"><ellipse cx="110" cy="728" rx="12.5" ry="7" class="fo"/><text x="110" y="730.5" class="t7">HFa</text></g>
<g id="L-HFb"><ellipse cx="110" cy="759" rx="12.5" ry="7" class="fo"/><text x="110" y="761.5" class="t7">HFb</text></g>
<g id="L-EWBa"><ellipse cx="110" cy="783" rx="13" ry="7" class="fo"/><text x="110" y="785.5" class="t7">EWBa</text></g>
<g id="L-EWBb"><ellipse cx="110" cy="803" rx="13" ry="7" class="fo"/><text x="110" y="805.5" class="t7">EWBb</text></g>
<g id="L-EWBc"><ellipse cx="110" cy="833" rx="13" ry="7" class="fo"/><text x="110" y="835.5" class="t7">EWBc</text></g>
</g>

<g id="left-first-order-errors">
<g id="e101"><circle cx="138" cy="13" r="5.5" class="en"/><text x="138" y="14.2" class="t3">e101</text></g>
<g id="e102"><circle cx="138" cy="37" r="5.5" class="en"/><text x="138" y="38.2" class="t3">e102</text></g>
<g id="e103"><circle cx="138" cy="63" r="5.5" class="en"/><text x="138" y="64.2" class="t3">e103</text></g>
<g id="e104"><circle cx="138" cy="100" r="5.5" class="en"/><text x="138" y="101.2" class="t3">e104</text></g>
<g id="e105"><circle cx="138" cy="123" r="5.5" class="en"/><text x="138" y="124.2" class="t3">e105</text></g>
<g id="e106"><circle cx="138" cy="147" r="5.5" class="en"/><text x="138" y="148.2" class="t3">e106</text></g>
<g id="e107"><circle cx="138" cy="179" r="5.5" class="en"/><text x="138" y="180.2" class="t3">e107</text></g>
<g id="e108"><circle cx="138" cy="202" r="5.5" class="en"/><text x="138" y="203.2" class="t3">e108</text></g>
<g id="e109"><circle cx="138" cy="234" r="5.5" class="en"/><text x="138" y="235.2" class="t3">e109</text></g>
<g id="e110"><circle cx="138" cy="271" r="5.5" class="en"/><text x="138" y="272.2" class="t3">e110</text></g>
<g id="e111"><circle cx="138" cy="298" r="5.5" class="en"/><text x="138" y="299.2" class="t3">e111</text></g>
<g id="e112"><circle cx="138" cy="324" r="5.5" class="en"/><text x="138" y="325.2" class="t3">e112</text></g>
<g id="e113"><circle cx="138" cy="360" r="5.5" class="en"/><text x="138" y="361.2" class="t3">e113</text></g>
<g id="e114"><circle cx="138" cy="387" r="5.5" class="en"/><text x="138" y="388.2" class="t3">e114</text></g>
<g id="e115"><circle cx="138" cy="412" r="5.5" class="en"/><text x="138" y="413.2" class="t3">e115</text></g>
<g id="e116"><circle cx="138" cy="438" r="5.5" class="en"/><text x="138" y="439.2" class="t3">e116</text></g>
<g id="e117"><circle cx="138" cy="461" r="5.5" class="en"/><text x="138" y="462.2" class="t3">e117</text></g>
<g id="e118"><circle cx="138" cy="492" r="5.5" class="en"/><text x="138" y="493.2" class="t3">e118</text></g>
<g id="e119"><circle cx="138" cy="524" r="5.5" class="en"/><text x="138" y="525.2" class="t3">e119</text></g>
<g id="e120"><circle cx="138" cy="547" r="5.5" class="en"/><text x="138" y="548.2" class="t3">e120</text></g>
<g id="e121"><circle cx="138" cy="577" r="5.5" class="en"/><text x="138" y="578.2" class="t3">e121</text></g>
<g id="e122"><circle cx="138" cy="613" r="5.5" class="en"/><text x="138" y="614.2" class="t3">e122</text></g>
<g id="e123"><circle cx="138" cy="636" r="5.5" class="en"/><text x="138" y="637.2" class="t3">e123</text></g>
<g id="e124"><circle cx="138" cy="659" r="5.5" class="en"/><text x="138" y="660.2" class="t3">e124</text></g>
<g id="e125"><circle cx="138" cy="688" r="5.5" class="en"/><text x="138" y="689.2" class="t3">e125</text></g>
<g id="e126"><circle cx="138" cy="715" r="5.5" class="en"/><text x="138" y="716.2" class="t3">e126</text></g>
<g id="e127"><circle cx="138" cy="746" r="5.5" class="en"/><text x="138" y="747.2" class="t3">e127</text></g>
<g id="e128"><circle cx="138" cy="770" r="5.5" class="en"/><text x="138" y="771.2" class="t3">e128</text></g>
<g id="e129"><circle cx="138" cy="790" r="5.5" class="en"/><text x="138" y="791.2" class="t3">e129</text></g>
<g id="e130"><circle cx="138" cy="820" r="5.5" class="en"/><text x="138" y="821.2" class="t3">e130</text></g>
</g>

<g id="left-second-order">
<g id="L-PE"><ellipse cx="197" cy="53" rx="25.5" ry="13.5" class="so"/><text x="197" y="57.5" class="lt2">PE</text></g>
<g id="L-PR"><ellipse cx="197" cy="136" rx="25.5" ry="13.5" class="so"/><text x="197" y="140.5" class="lt2">PR</text></g>
<g id="L-OO"><ellipse cx="197" cy="216" rx="25.5" ry="13.5" class="so"/><text x="197" y="220.5" class="lt2">OO</text></g>
<g id="L-CM"><ellipse cx="197" cy="312" rx="25.5" ry="13.5" class="so"/><text x="197" y="316.5" class="lt2">CM</text></g>
<g id="L-PL"><ellipse cx="197" cy="402" rx="25.5" ry="13.5" class="so"/><text x="197" y="406.5" class="lt2">PL</text></g>
<g id="L-IN"><ellipse cx="197" cy="476" rx="25.5" ry="13.5" class="so"/><text x="197" y="480.5" class="lt2">IN</text></g>
<g id="L-AP"><ellipse cx="197" cy="559" rx="25.5" ry="13.5" class="so"/><text x="197" y="563.5" class="lt2">AP</text></g>
<g id="L-EC"><ellipse cx="197" cy="649" rx="25.5" ry="13.5" class="so"/><text x="197" y="653.5" class="lt2">EC</text></g>
<g id="L-SWB"><ellipse cx="197" cy="765" rx="25.5" ry="13.5" class="so"/><text x="197" y="769.5" class="lt2">SWB</text></g>
</g>

<g id="left-labels">
<g class="t45">
<text x="78" y="18.3">.83</text><text x="78" y="24.2">.86</text><text x="78" y="30.1">.85</text><text x="78" y="42.1">.85</text><text x="78" y="48">.78</text><text x="78" y="53.9">.88</text><text x="78" y="66.3">.91</text><text x="78" y="72.3">.89</text><text x="78" y="78.2">.66</text><text x="78" y="84.1">.70</text>
<text x="78" y="101.3">.82</text><text x="78" y="107.4">.76</text><text x="78" y="113.5">.81</text><text x="78" y="119.5">.80</text><text x="78" y="131.4">.83</text><text x="78" y="137.4">.87</text><text x="78" y="149.5">.83</text><text x="78" y="155.6">.78</text><text x="78" y="161.7">.82</text><text x="78" y="167.7">.73</text>
<text x="78" y="187.1">.90</text><text x="78" y="193">.88</text><text x="78" y="204.7">.82</text><text x="78" y="210.6">.72</text><text x="78" y="216.5">.84</text><text x="78" y="222.4">.80</text><text x="78" y="236.4">.85</text><text x="78" y="242.3">.84</text><text x="78" y="248.2">.82</text><text x="78" y="254.1">.86</text>
<text x="78" y="279.1">.80</text><text x="78" y="284.5">.92</text><text x="78" y="290.1">.82</text><text x="78" y="302.3">.84</text><text x="78" y="307.8">.81</text><text x="78" y="313.3">.85</text><text x="78" y="318.8">.79</text><text x="78" y="330.8">.80</text><text x="78" y="336.3">.90</text><text x="78" y="341.8">.88</text>
<text x="78" y="363.6">.78</text><text x="78" y="369.4">.81</text><text x="78" y="375.3">.84</text><text x="78" y="381.1">.79</text><text x="78" y="393.7">.80</text><text x="78" y="399.6">.79</text><text x="78" y="405.4">.78</text><text x="78" y="417.5">.81</text><text x="78" y="423.4">.80</text><text x="78" y="429.2">.74</text>
<text x="78" y="446.8">.85</text><text x="78" y="452.6">.92</text><text x="78" y="464">.82</text><text x="78" y="469.8">.85</text><text x="78" y="475.6">.88</text><text x="78" y="481.3">.86</text><text x="78" y="494.8">.82</text><text x="78" y="500.6">.83</text><text x="78" y="506.3">.80</text><text x="78" y="512.1">.84</text>
<text x="78" y="532.8">.91</text><text x="78" y="538.6">.90</text><text x="78" y="550">.83</text><text x="78" y="555.8">.82</text><text x="78" y="561.6">.85</text><text x="78" y="567.3">.77</text><text x="78" y="580.6">.86</text><text x="78" y="586.3">.82</text><text x="78" y="592">.78</text><text x="78" y="597.8">.84</text>
<text x="78" y="616.6">.82</text><text x="78" y="622.3">.87</text><text x="78" y="628">.80</text><text x="78" y="633.8">.78</text><text x="78" y="645.3">.94</text><text x="78" y="651">.90</text><text x="78" y="662.6">.90</text><text x="78" y="668.3">.82</text><text x="78" y="674">.87</text><text x="78" y="679.8">.80</text>
<text x="78" y="696.8">.92</text><text x="78" y="702.8">.84</text><text x="78" y="715.6">.88</text><text x="78" y="721.3">.84</text><text x="78" y="726.9">.85</text><text x="78" y="732.6">.83</text><text x="78" y="738.3">.79</text><text x="78" y="751.7">.88</text><text x="78" y="757.4">.88</text><text x="78" y="763.1">.94</text>
<text x="78" y="780.3">.88</text><text x="78" y="785.9">.84</text><text x="78" y="796.5">.81</text><text x="78" y="802">.92</text><text x="78" y="807.7">.82</text><text x="78" y="820.7">.76</text><text x="78" y="826.3">.81</text><text x="78" y="831.9">.80</text><text x="78" y="837.5">.79</text><text x="78" y="843.1">.83</text>
</g>
<g class="t55">
<text x="122" y="16">.85</text><text x="122" y="40">.81</text><text x="122" y="66">.68</text>
<text x="122" y="103">.70</text><text x="122" y="126">.74</text><text x="122" y="150">.74</text>
<text x="122" y="182">.68</text><text x="122" y="205">.81</text><text x="122" y="237">.68</text>
<text x="122" y="274">.65</text><text x="122" y="301">.83</text><text x="122" y="327">.69</text>
<text x="122" y="363">.82</text><text x="122" y="390">.73</text><text x="122" y="415">.74</text>
<text x="122" y="441">.66</text><text x="122" y="464">.69</text><text x="122" y="495">.59</text>
<text x="122" y="527">.67</text><text x="122" y="550">.64</text><text x="122" y="580">.72</text>
<text x="122" y="616">.75</text><text x="122" y="639">.71</text><text x="122" y="662">.70</text>
<text x="122" y="691">.44</text><text x="122" y="718">.77</text><text x="122" y="749">.73</text><text x="122" y="773">.64</text><text x="122" y="793">.78</text><text x="122" y="823">.67</text>
</g>
<g class="tk">
<text x="16" y="27">-.08</text><text x="16" y="74.5">-.12</text><text x="16" y="116">-.21</text><text x="16" y="157">-.12</text>
<text x="16" y="216">-.14</text><text x="16" y="244">-.08</text><text x="16" y="310">-.10</text><text x="16" y="336">-.02</text>
<text x="16" y="375">-.13</text><text x="16" y="402">-.08</text><text x="16" y="475">-.17</text><text x="16" y="502">-.28</text>
<text x="16" y="554">-.18</text><text x="16" y="561">-.22</text><text x="16" y="621">-.33</text><text x="16" y="628">-.22</text><text x="16" y="670">-.13</text>
<text x="16" y="722">-.16</text><text x="16" y="760">-.13</text><text x="16" y="827">-.23</text><text x="16" y="834">-.18</text>
</g>
<g class="lbl">
<text x="160" y="35">.93</text><text x="160" y="46.5">.90</text><text x="160" y="78">.83</text>
<text x="160" y="120">.84</text><text x="158" y="131.5">.86</text><text x="160" y="161">.86</text>
<text x="160" y="199">.83</text><text x="160" y="211">.90</text><text x="160" y="244">.83</text>
<text x="160" y="293">.81</text><text x="160" y="305">.91</text><text x="160" y="337">.83</text>
<text x="160" y="384">.91</text><text x="160" y="397">.86</text><text x="160" y="427">.86</text>
<text x="160" y="458">.81</text><text x="160" y="469.5">.83</text><text x="160" y="503">.77</text>
<text x="160" y="543">.82</text><text x="160" y="554.5">.80</text><text x="160" y="587">.85</text>
<text x="160" y="632.5">.87</text><text x="160" y="644">.84</text><text x="160" y="673">.84</text>
<text x="160" y="731">.66</text><text x="160" y="743">.88</text><text x="160" y="758">.85</text><text x="160" y="785.5">.80</text><text x="160" y="797">.88</text><text x="160" y="812">.82</text>
</g>
<g class="cl">
<text x="258" y="101">.75</text><text x="283" y="146">.78</text><text x="312" y="180">.63</text><text x="340" y="211">.66</text><text x="363" y="247">.55</text><text x="389" y="286">.48</text><text x="417" y="327">.42</text><text x="453" y="381">.70</text>
<text x="256" y="180">.76</text><text x="287" y="228">.75</text><text x="315" y="273">.70</text><text x="338" y="310">.62</text><text x="365" y="352">.55</text><text x="392" y="397">.51</text><text x="428" y="432">.75</text>
<text x="261" y="267">.69</text><text x="290" y="312">.70</text><text x="313" y="350">.61</text><text x="339" y="391">.53</text><text x="367" y="437">.48</text><text x="403" y="471">.72</text>
<text x="260" y="361">.63</text><text x="283" y="397">.65</text><text x="310" y="439">.50</text><text x="338" y="484">.50</text><text x="374" y="533">.70</text>
<text x="254" y="443">.61</text><text x="281" y="485">.56</text><text x="310" y="530">.47</text><text x="345" y="571">.66</text>
<text x="258" y="522">.55</text><text x="287" y="567">.60</text><text x="322" y="606">.63</text>
<text x="295" y="641">.58</text><text x="270" y="699">.56</text>
</g>
<text x="257" y="608" font-size="8.5" font-weight="bold" text-anchor="middle">.64</text>
</g>

<g id="left-fit" class="stl">
<text x="310" y="717">RMSEA=.028</text>
<text x="310" y="730.5">CFI=.958</text>
<text x="310" y="744">GFI=.895</text>
<text x="310" y="757.5">AGFI=.887</text>
<text x="310" y="771">TLI=.956</text>
<text x="310" y="784.5">NFI=.947</text>
<text x="310" y="798">Relative Chi-square=4.446</text>
<text x="310" y="811.5">Chi-square=20911.161</text>
<text x="310" y="825">df=4703</text>
<text x="310" y="838.5">p=.000</text>
</g>

<!-- ================= RIGHT PANEL CONNECTORS ================= -->
<g id="right-connectors">
<path class="ac" d="M697,89A32.9,32.9 0 0 1 697,147"/>
<path class="ac" d="M697,89A77.5,77.5 0 0 1 697,228"/>
<path class="ac" d="M697,89A122.2,122.2 0 0 1 697,309"/>
<path class="ac" d="M697,89A166.4,166.4 0 0 1 697,389"/>
<path class="ac" d="M697,89A211.1,211.1 0 0 1 697,470"/>
<path class="ac" d="M697,89A255.8,255.8 0 0 1 697,551"/>
<path class="ac" d="M697,89A300.5,300.5 0 0 1 697,632"/>
<path class="ac" d="M697,89A364.5,364.5 0 0 1 697,748"/>
<path class="ac" d="M697,169A33.3,33.3 0 0 1 697,228"/>
<path class="ac" d="M697,169A78.1,78.1 0 0 1 697,309"/>
<path class="ac" d="M697,169A122.2,122.2 0 0 1 697,389"/>
<path class="ac" d="M697,169A166.9,166.9 0 0 1 697,470"/>
<path class="ac" d="M697,169A211.6,211.6 0 0 1 697,551"/>
<path class="ac" d="M697,169A256.4,256.4 0 0 1 697,632"/>
<path class="ac" d="M697,169A320.4,320.4 0 0 1 697,748"/>
<path class="ac" d="M697,250A33.3,33.3 0 0 1 697,309"/>
<path class="ac" d="M697,250A77.5,77.5 0 0 1 697,389"/>
<path class="ac" d="M697,250A122.2,122.2 0 0 1 697,470"/>
<path class="ac" d="M697,250A166.9,166.9 0 0 1 697,551"/>
<path class="ac" d="M697,250A211.6,211.6 0 0 1 697,632"/>
<path class="ac" d="M697,250A275.7,275.7 0 0 1 697,748"/>
<path class="ac" d="M697,331A32.9,32.9 0 0 1 697,389"/>
<path class="ac" d="M697,331A77.5,77.5 0 0 1 697,470"/>
<path class="ac" d="M697,331A122.2,122.2 0 0 1 697,551"/>
<path class="ac" d="M697,331A166.9,166.9 0 0 1 697,632"/>
<path class="ac" d="M697,331A231,231 0 0 1 697,748"/>
<path class="ac" d="M697,411A33.3,33.3 0 0 1 697,470"/>
<path class="ac" d="M697,411A78.1,78.1 0 0 1 697,551"/>
<path class="ac" d="M697,411A122.7,122.7 0 0 1 697,632"/>
<path class="ac" d="M697,411A186.8,186.8 0 0 1 697,748"/>
<path class="ac" d="M697,492A33.3,33.3 0 0 1 697,551"/>
<path class="ac" d="M697,492A78.1,78.1 0 0 1 697,632"/>
<path class="ac" d="M697,492A142.1,142.1 0 0 1 697,748"/>
<path class="ac" d="M697,573A33.3,33.3 0 0 1 697,632"/>
<path class="ac" d="M697,573A97.4,97.4 0 0 1 697,748"/>
<path class="ac" d="M697,654A52.7,52.7 0 0 1 697,748"/>

<path class="cr" d="M677,78L563,54"/><path class="cr" d="M677,78L563,78"/><path class="cr" d="M677,78L563,102"/>
<path class="cr" d="M677,158L563,134"/><path class="cr" d="M677,158L563,158"/><path class="cr" d="M677,158L563,182"/>
<path class="cr" d="M677,239L563,215"/><path class="cr" d="M677,239L563,239"/><path class="cr" d="M677,239L563,263"/>
<path class="cr" d="M677,320L563,296"/><path class="cr" d="M677,320L563,320"/><path class="cr" d="M677,320L563,344"/>
<path class="cr" d="M677,400L563,376"/><path class="cr" d="M677,400L563,400"/><path class="cr" d="M677,400L563,424"/>
<path class="cr" d="M677,481L563,457"/><path class="cr" d="M677,481L563,481"/><path class="cr" d="M677,481L563,505"/>
<path class="cr" d="M677,562L563,538"/><path class="cr" d="M677,562L563,562"/><path class="cr" d="M677,562L563,586"/>
<path class="cr" d="M677,643L563,619"/><path class="cr" d="M677,643L563,643"/><path class="cr" d="M677,643L563,667"/>
<path class="cr" d="M677,759L563,698"/><path class="cr" d="M677,759L563,722"/><path class="cr" d="M677,759L563,747"/><path class="cr" d="M677,759L563,771"/><path class="cr" d="M677,759L563,796"/><path class="cr" d="M677,759L563,820"/>

<path class="cr" d="M493,54H520"/><path class="cr" d="M493,78H520"/><path class="cr" d="M493,102H520"/>
<path class="cr" d="M493,134H520"/><path class="cr" d="M493,158H520"/><path class="cr" d="M493,182H520"/>
<path class="cr" d="M493,215H520"/><path class="cr" d="M493,239H520"/><path class="cr" d="M493,263H520"/>
<path class="cr" d="M493,296H520"/><path class="cr" d="M493,320H520"/><path class="cr" d="M493,344H520"/>
<path class="cr" d="M493,376H520"/><path class="cr" d="M493,400H520"/><path class="cr" d="M493,424H520"/>
<path class="cr" d="M493,457H520"/><path class="cr" d="M493,481H520"/><path class="cr" d="M493,505H520"/>
<path class="cr" d="M493,538H520"/><path class="cr" d="M493,562H520"/><path class="cr" d="M493,586H520"/>
<path class="cr" d="M493,619H520"/><path class="cr" d="M493,643H520"/><path class="cr" d="M493,667H520"/>
<path class="cr" d="M493,698H520"/><path class="cr" d="M493,722H520"/><path class="cr" d="M493,747H520"/><path class="cr" d="M493,771H520"/><path class="cr" d="M493,796H520"/><path class="cr" d="M493,820H520"/>
</g>

<!-- ================= RIGHT PANEL NODES ================= -->
<g id="right-errors">
<g id="e1"><circle cx="482" cy="54" r="11" class="nd"/><text x="482" y="58.5" class="t12">e1</text></g>
<g id="e2"><circle cx="482" cy="78" r="11" class="nd"/><text x="482" y="82.5" class="t12">e2</text></g>
<g id="e3"><circle cx="482" cy="102" r="11" class="nd"/><text x="482" y="106.5" class="t12">e3</text></g>
<g id="e4"><circle cx="482" cy="134" r="11" class="nd"/><text x="482" y="138.5" class="t12">e4</text></g>
<g id="e5"><circle cx="482" cy="158" r="11" class="nd"/><text x="482" y="162.5" class="t12">e5</text></g>
<g id="e6"><circle cx="482" cy="182" r="11" class="nd"/><text x="482" y="186.5" class="t12">e6</text></g>
<g id="e7"><circle cx="482" cy="215" r="11" class="nd"/><text x="482" y="219.5" class="t12">e7</text></g>
<g id="e8"><circle cx="482" cy="239" r="11" class="nd"/><text x="482" y="243.5" class="t12">e8</text></g>
<g id="e9"><circle cx="482" cy="263" r="11" class="nd"/><text x="482" y="267.5" class="t12">e9</text></g>
<g id="e10"><circle cx="482" cy="296" r="11" class="nd"/><text x="482" y="300.5" class="t12">e10</text></g>
<g id="e11"><circle cx="482" cy="320" r="11" class="nd"/><text x="482" y="324.5" class="t12">e11</text></g>
<g id="e12"><circle cx="482" cy="344" r="11" class="nd"/><text x="482" y="348.5" class="t12">e12</text></g>
<g id="e13"><circle cx="482" cy="376" r="11" class="nd"/><text x="482" y="380.5" class="t12">e13</text></g>
<g id="e14"><circle cx="482" cy="400" r="11" class="nd"/><text x="482" y="404.5" class="t12">e14</text></g>
<g id="e15"><circle cx="482" cy="424" r="11" class="nd"/><text x="482" y="428.5" class="t12">e15</text></g>
<g id="e16"><circle cx="482" cy="457" r="11" class="nd"/><text x="482" y="461.5" class="t12">e16</text></g>
<g id="e17"><circle cx="482" cy="481" r="11" class="nd"/><text x="482" y="485.5" class="t12">e17</text></g>
<g id="e18"><circle cx="482" cy="505" r="11" class="nd"/><text x="482" y="509.5" class="t12">e18</text></g>
<g id="e19"><circle cx="482" cy="538" r="11" class="nd"/><text x="482" y="542.5" class="t12">e19</text></g>
<g id="e20"><circle cx="482" cy="562" r="11" class="nd"/><text x="482" y="566.5" class="t12">e20</text></g>
<g id="e21"><circle cx="482" cy="586" r="11" class="nd"/><text x="482" y="590.5" class="t12">e21</text></g>
<g id="e22"><circle cx="482" cy="619" r="11" class="nd"/><text x="482" y="623.5" class="t12">e22</text></g>
<g id="e23"><circle cx="482" cy="643" r="11" class="nd"/><text x="482" y="647.5" class="t12">e23</text></g>
<g id="e24"><circle cx="482" cy="667" r="11" class="nd"/><text x="482" y="671.5" class="t12">e24</text></g>
<g id="e25"><circle cx="482" cy="698" r="11" class="nd"/><text x="482" y="702.5" class="t12">e25</text></g>
<g id="e26"><circle cx="482" cy="722" r="11" class="nd"/><text x="482" y="726.5" class="t12">e26</text></g>
<g id="e27"><circle cx="482" cy="747" r="11" class="nd"/><text x="482" y="751.5" class="t12">e27</text></g>
<g id="e28"><circle cx="482" cy="771" r="11" class="nd"/><text x="482" y="775.5" class="t12">e28</text></g>
<g id="e29"><circle cx="482" cy="796" r="11" class="nd"/><text x="482" y="800.5" class="t12">e29</text></g>
<g id="e30"><circle cx="482" cy="820" r="11" class="nd"/><text x="482" y="824.5" class="t12">e30</text></g>
</g>

<g id="right-indicators">
<g id="R-PEa"><rect x="520" y="44.5" width="43" height="19" class="nd"/><text x="541.5" y="58.5" class="t13">PEa</text></g>
<g id="R-PEb"><rect x="520" y="68.5" width="43" height="19" class="nd"/><text x="541.5" y="82.5" class="t13">PEb</text></g>
<g id="R-PEc"><rect x="520" y="92.5" width="43" height="19" class="nd"/><text x="541.5" y="106.5" class="t13">PEc</text></g>
<g id="R-PRa"><rect x="520" y="124.5" width="43" height="19" class="nd"/><text x="541.5" y="138.5" class="t13">PRa</text></g>
<g id="R-PRb"><rect x="520" y="148.5" width="43" height="19" class="nd"/><text x="541.5" y="162.5" class="t13">PRb</text></g>
<g id="R-PRc"><rect x="520" y="172.5" width="43" height="19" class="nd"/><text x="541.5" y="186.5" class="t13">PRc</text></g>
<g id="R-OOa"><rect x="520" y="205.5" width="43" height="19" class="nd"/><text x="541.5" y="219.5" class="t13">OOa</text></g>
<g id="R-OOb"><rect x="520" y="229.5" width="43" height="19" class="nd"/><text x="541.5" y="243.5" class="t13">OOb</text></g>
<g id="R-OOc"><rect x="520" y="253.5" width="43" height="19" class="nd"/><text x="541.5" y="267.5" class="t13">OOc</text></g>
<g id="R-CMa"><rect x="520" y="286.5" width="43" height="19" class="nd"/><text x="541.5" y="300.5" class="t13">CMa</text></g>
<g id="R-CMb"><rect x="520" y="310.5" width="43" height="19" class="nd"/><text x="541.5" y="324.5" class="t13">CMb</text></g>
<g id="R-CMc"><rect x="520" y="334.5" width="43" height="19" class="nd"/><text x="541.5" y="348.5" class="t13">CMc</text></g>
<g id="R-PLa"><rect x="520" y="366.5" width="43" height="19" class="nd"/><text x="541.5" y="380.5" class="t13">PLa</text></g>
<g id="R-PLb"><rect x="520" y="390.5" width="43" height="19" class="nd"/><text x="541.5" y="404.5" class="t13">PLb</text></g>
<g id="R-PLc"><rect x="520" y="414.5" width="43" height="19" class="nd"/><text x="541.5" y="428.5" class="t13">PLc</text></g>
<g id="R-INa"><rect x="520" y="447.5" width="43" height="19" class="nd"/><text x="541.5" y="461.5" class="t13">INa</text></g>
<g id="R-INb"><rect x="520" y="471.5" width="43" height="19" class="nd"/><text x="541.5" y="485.5" class="t13">INb</text></g>
<g id="R-INc"><rect x="520" y="495.5" width="43" height="19" class="nd"/><text x="541.5" y="509.5" class="t13">INc</text></g>
<g id="R-APa"><rect x="520" y="528.5" width="43" height="19" class="nd"/><text x="541.5" y="542.5" class="t13">APa</text></g>
<g id="R-APb"><rect x="520" y="552.5" width="43" height="19" class="nd"/><text x="541.5" y="566.5" class="t13">APb</text></g>
<g id="R-APc"><rect x="520" y="576.5" width="43" height="19" class="nd"/><text x="541.5" y="590.5" class="t13">APc</text></g>
<g id="R-ECa"><rect x="520" y="609.5" width="43" height="19" class="nd"/><text x="541.5" y="623.5" class="t13">ECa</text></g>
<g id="R-ECb"><rect x="520" y="633.5" width="43" height="19" class="nd"/><text x="541.5" y="647.5" class="t13">ECb</text></g>
<g id="R-ECc"><rect x="520" y="657.5" width="43" height="19" class="nd"/><text x="541.5" y="671.5" class="t13">ECc</text></g>
<g id="R-SWL"><rect x="520" y="688.5" width="43" height="19" class="nd"/><text x="541.5" y="702.5" class="t13">SWL</text></g>
<g id="R-HFa"><rect x="520" y="712.5" width="43" height="19" class="nd"/><text x="541.5" y="726.5" class="t13">HFa</text></g>
<g id="R-HFb"><rect x="520" y="737.5" width="43" height="19" class="nd"/><text x="541.5" y="751.5" class="t13">HFb</text></g>
<g id="R-EWBa"><rect x="520" y="761.5" width="43" height="19" class="nd"/><text x="541.5" y="775.5" class="t13">EWBa</text></g>
<g id="R-EWBb"><rect x="520" y="786.5" width="43" height="19" class="nd"/><text x="541.5" y="800.5" class="t13">EWBb</text></g>
<g id="R-EWBc"><rect x="520" y="810.5" width="43" height="19" class="nd"/><text x="541.5" y="824.5" class="t13">EWBc</text></g>
</g>

<g id="right-latents">
<g id="R-PE"><circle cx="677" cy="78" r="23" class="nd"/><text x="677" y="83" class="lt">PE</text></g>
<g id="R-PR"><circle cx="677" cy="158" r="23" class="nd"/><text x="677" y="163" class="lt">PR</text></g>
<g id="R-OO"><circle cx="677" cy="239" r="23" class="nd"/><text x="677" y="244" class="lt">OO</text></g>
<g id="R-CM"><circle cx="677" cy="320" r="23" class="nd"/><text x="677" y="325" class="lt">CM</text></g>
<g id="R-PL"><circle cx="677" cy="400" r="23" class="nd"/><text x="677" y="405" class="lt">PL</text></g>
<g id="R-IN"><circle cx="677" cy="481" r="23" class="nd"/><text x="677" y="486" class="lt">IN</text></g>
<g id="R-AP"><circle cx="677" cy="562" r="23" class="nd"/><text x="677" y="567" class="lt">AP</text></g>
<g id="R-EC"><circle cx="677" cy="643" r="23" class="nd"/><text x="677" y="648" class="lt">EC</text></g>
<g id="R-SWB"><circle cx="677" cy="759" r="23" class="nd"/><text x="677" y="764" class="lt">SWB</text></g>
</g>

<g id="right-labels">
<g class="ev">
<text x="507" y="49">.94</text><text x="507" y="73">.86</text><text x="507" y="97">.72</text>
<text x="507" y="129">.73</text><text x="507" y="153">.82</text><text x="507" y="177">.86</text>
<text x="507" y="210">.77</text><text x="507" y="234">.90</text><text x="507" y="258">.71</text>
<text x="507" y="291">.72</text><text x="507" y="315">.92</text><text x="507" y="339">.71</text>
<text x="507" y="371">.88</text><text x="507" y="395">.79</text><text x="507" y="419">.84</text>
<text x="507" y="452">.71</text><text x="507" y="476">.71</text><text x="507" y="500">.64</text>
<text x="507" y="533">.73</text><text x="507" y="557">.65</text><text x="507" y="581">.77</text>
<text x="507" y="614">.81</text><text x="507" y="638">.74</text><text x="507" y="662">.77</text>
<text x="507" y="693">.45</text><text x="507" y="717">.79</text><text x="507" y="742">.78</text><text x="507" y="766">.71</text><text x="507" y="791">.88</text><text x="507" y="815">.70</text>
</g>
<g class="lb">
<text x="598" y="53">.97</text><text x="598" y="71">.93</text><text x="598" y="84">.85</text>
<text x="598" y="133">.86</text><text x="598" y="151">.90</text><text x="598" y="164">.93</text>
<text x="598" y="214">.88</text><text x="598" y="232">.95</text><text x="598" y="245">.84</text>
<text x="598" y="295">.85</text><text x="598" y="313">.96</text><text x="598" y="326">.84</text>
<text x="598" y="375">.94</text><text x="598" y="393">.89</text><text x="598" y="406">.92</text>
<text x="598" y="456">.84</text><text x="598" y="474">.84</text><text x="598" y="487">.80</text>
<text x="598" y="537">.85</text><text x="598" y="555">.81</text><text x="598" y="568">.88</text>
<text x="598" y="618">.90</text><text x="598" y="636">.86</text><text x="598" y="649">.88</text>
<text x="598" y="703">.67</text><text x="598" y="723">.89</text><text x="598" y="742">.88</text><text x="598" y="758">.84</text><text x="598" y="772">.94</text><text x="598" y="788">.83</text>
</g>
<g class="ci">
<text x="727" y="123">.78</text><text x="753" y="163.5">.80</text><text x="779" y="204">.67</text><text x="804" y="244">.71</text><text x="830" y="284.5">.58</text><text x="856" y="325">.55</text><text x="882" y="365.5">.52</text><text x="919" y="423.5">.76</text>
<text x="728" y="203.5">.78</text><text x="754" y="244">.77</text><text x="779" y="284">.71</text><text x="805" y="324.5">.61</text><text x="830" y="365">.57</text><text x="856" y="405.5">.58</text><text x="893" y="463.5">.76</text>
<text x="728" y="284.5">.69</text><text x="753" y="324.5">.70</text><text x="779" y="365">.61</text><text x="805" y="405.5">.58</text><text x="830" y="446">.53</text><text x="867" y="504">.75</text>
<text x="727" y="365">.64</text><text x="753" y="405.5">.65</text><text x="779" y="446">.55</text><text x="805" y="486.5">.57</text><text x="842" y="544.5">.71</text>
<text x="728" y="445.5">.61</text><text x="754" y="486">.62</text><text x="779" y="526.5">.52</text><text x="816" y="584.5">.69</text>
<text x="728" y="526.5">.59</text><text x="754" y="567">.66</text><text x="790" y="625">.67</text>
<text x="728" y="607.5">.58</text><text x="765" y="665.5">.59</text>
<text x="739" y="706">.59</text>
</g>
</g>

<g id="right-fit" class="st">
<text x="789" y="703">RMSEA=.028</text>
<text x="789" y="717">CFI=.971</text>
<text x="789" y="730.5">GFI=.925</text>
<text x="789" y="744.5">AGFI=.906</text>
<text x="789" y="758">TLI=.966</text>
<text x="789" y="772">NFI=.962</text>
<text x="789" y="786">Relative Chi-square=4.325</text>
<text x="789" y="799.5">Chi-square=4787.829</text>
<text x="789" y="813">df=1107</text>
<text x="789" y="827">p=.000</text>
</g>
</svg>
